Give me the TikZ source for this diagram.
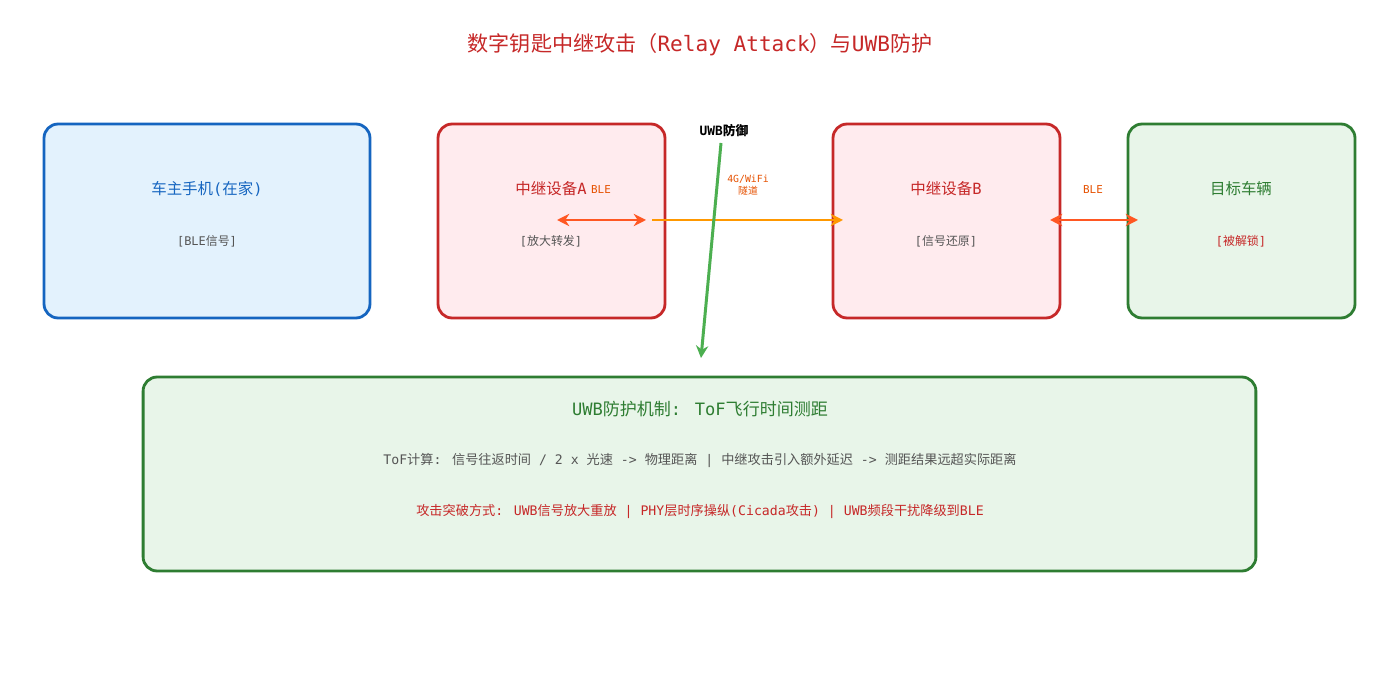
\documentclass[tikz,border=0pt]{standalone}
\usepackage{fontspec}
\setmainfont{DejaVu Sans Mono}
\newfontfamily\latf{DejaVu Sans Mono}
\newfontfamily\cjkf{Noto Sans CJK SC}
\XeTeXinterchartokenstate=1
\newXeTeXintercharclass\CJKcls
\newcount\cjkcc
\def\setcjkrange#1#2{\cjkcc=#1 \loop\XeTeXcharclass\cjkcc=\CJKcls \ifnum\cjkcc<#2 \advance\cjkcc by 1 \repeat}
\setcjkrange{"3000}{"303F}
\setcjkrange{"4E00}{"9FFF}
\setcjkrange{"FF00}{"FFEF}
\XeTeXinterchartoks 0 \CJKcls = {\cjkf}
\XeTeXinterchartoks 4095 \CJKcls = {\cjkf}
\XeTeXinterchartoks \CJKcls 0 = {\latf}
\XeTeXinterchartoks \CJKcls 4095 = {\latf}
\usetikzlibrary{arrows.meta}
\definecolor{bluefill}{HTML}{E3F2FD}
\definecolor{bluedraw}{HTML}{1565C0}
\definecolor{redfill}{HTML}{FFEBEE}
\definecolor{reddraw}{HTML}{C62828}
\definecolor{greenfill}{HTML}{E8F5E9}
\definecolor{greendraw}{HTML}{2E7D32}
\definecolor{graytext}{HTML}{555555}
\definecolor{bleline}{HTML}{FF5722}
\definecolor{tunnel}{HTML}{FF9800}
\definecolor{lbl}{HTML}{E65100}
\definecolor{uwb}{HTML}{4CAF50}
\tikzset{
  x=0.02cm, y=-0.02cm,
  box/.style={draw, line width=1.6pt, rounded corners=0.28cm, minimum height=3.88cm, inner sep=0pt},
  smallbox/.style={box, minimum width=4.54cm},
  titlefont/.style={font=\fontsize{8.8}{11}\selectfont},
  subfont/.style={font=\fontsize{6.8}{8}\selectfont, text=graytext},
  bodyfont/.style={font=\fontsize{7.5}{9}\selectfont, text=graytext},
  lblfont/.style={font=\fontsize{6.2}{7}\selectfont, text=lbl},
  bothway/.style={line width=1.7pt, color=bleline, {Stealth[length=7pt,width=7pt]}-{Stealth[length=7pt,width=7pt]}},
  oneway/.style={line width=1.7pt, color=tunnel, -{Stealth[length=7pt,width=7pt]}},
  uwbarrow/.style={line width=1.7pt, color=uwb, -{Stealth[length=7pt,width=7pt]}}
}
\begin{document}
\begin{tikzpicture}
\useasboundingbox[fill=white] (0,0) rectangle (1400,695);

\node[text=reddraw, font=\fontsize{12}{14}\selectfont] (title) at (700,45) {数字钥匙中继攻击（Relay Attack）与UWB防护};

\node[box, fill=bluefill, draw=bluedraw, minimum width=6.52cm] (phone) at (207,221) {};
\node[smallbox, fill=redfill, draw=reddraw] (relayA) at (551.5,221) {};
\node[smallbox, fill=redfill, draw=reddraw] (relayB) at (946.5,221) {};
\node[smallbox, fill=greenfill, draw=greendraw] (car) at (1241.5,221) {};
\node[box, fill=greenfill, draw=greendraw, minimum width=22.26cm] (defense) at (699.5,474) {};

\node[titlefont, text=bluedraw] (phoneT) at (207,189) {车主手机(在家)};
\node[subfont] (phoneS) at (207,241) {[BLE信号]};
\node[titlefont, text=reddraw] (relayAT) at (551,189) {中继设备A};
\node[subfont] (relayAS) at (551,241) {[放大转发]};
\node[titlefont, text=reddraw] (relayBT) at (946,189) {中继设备B};
\node[subfont] (relayBS) at (946,241) {[信号还原]};
\node[titlefont, text=greendraw] (carT) at (1241,189) {目标车辆};
\node[subfont, text=reddraw] (carS) at (1241,241) {[被解锁]};

\coordinate (a1) at (557,220);
\coordinate (a2) at (646,220);
\coordinate (t1) at (652,220);
\coordinate (t2) at (843,220);
\coordinate (b1) at (1050,220);
\coordinate (b2) at (1138,220);
\coordinate (u1) at (721,143);
\coordinate (u2) at (701,358);

\draw[oneway] (t1) -- (t2);
\draw[bothway] (a1) -- (a2);
\draw[bothway] (b1) -- (b2);
\draw[uwbarrow] (u1) -- (u2);

\node[lblfont] (bleA) at (601,190) {BLE};
\node[lblfont, align=center, font=\fontsize{5.6}{6.6}\selectfont] (tunL) at (748,185) {4G/WiFi\\隧道};
\node[lblfont] (bleB) at (1093,190) {BLE};
\node[font=\fontsize{7.3}{8}\selectfont\bfseries] (uwbL) at (724,131) {UWB防御};

\node[titlefont, text=greendraw, font=\fontsize{9.7}{11}\selectfont] (defT) at (700,409) {UWB防护机制: ToF飞行时间测距};
\node[bodyfont] (defS1) at (700,460) {ToF计算: 信号往返时间 / 2 x 光速 -> 物理距离 | 中继攻击引入额外延迟 -> 测距结果远超实际距离};
\node[bodyfont, text=reddraw] (defS2) at (700,511) {攻击突破方式: UWB信号放大重放 | PHY层时序操纵(Cicada攻击) | UWB频段干扰降级到BLE};
\end{tikzpicture}
\end{document}
